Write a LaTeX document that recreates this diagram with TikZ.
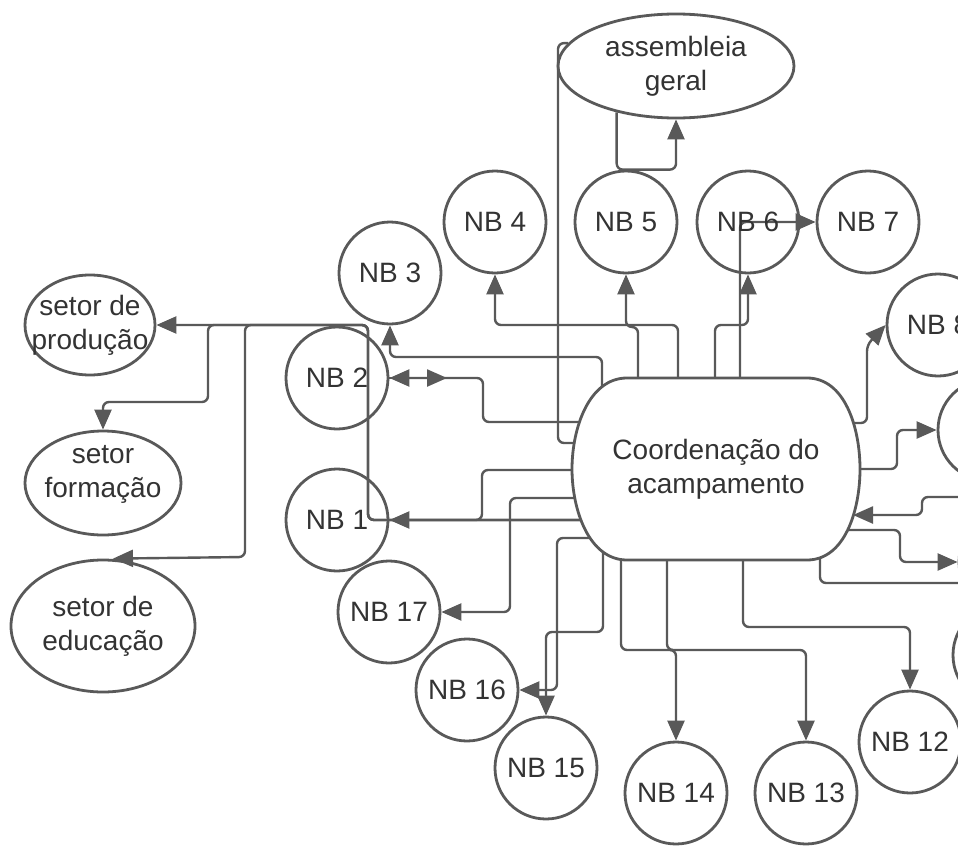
\documentclass[tikz,border=0pt]{standalone}
\usepackage{fontspec}
\setmainfont{Liberation Sans}
\usetikzlibrary{arrows.meta, shapes.geometric, backgrounds, calc}

\begin{document}
\begin{tikzpicture}[
    x=0.5pt, y=-0.5pt,
    font=\fontsize{14}{17}\selectfont,
    every node/.style={text=black!80},
    nb/.style={circle, draw=black!65, line width=1.4pt, minimum size=51pt, inner sep=0pt},
    setor/.style={ellipse, draw=black!65, line width=1.4pt, inner sep=0pt, align=center},
    coordbox/.style={align=center, inner sep=0pt},
    arrow/.style={line width=1.2pt, draw=black!65, rounded corners=3pt, -{Triangle[length=10pt, width=8.5pt]}},
    link/.style={line width=1.2pt, draw=black!65, rounded corners=3pt}
]
\useasboundingbox (0,0) rectangle (958,846);
\clip (0,0) rectangle (958,846);

% Coordination block
\draw[line width=1.4pt, draw=black!65, fill=white] (627,378) -- (807,378)
    .. controls (845,378) and (860,428) .. (860,469)
    .. controls (860,510) and (845,560) .. (807,560) -- (627,560)
    .. controls (589,560) and (572,510) .. (572,469)
    .. controls (572,428) and (589,378) .. (627,378) -- cycle;
\node[coordbox] (coord) at (716,469) {Coordenação do\\acampamento};

% Sectors and assembly
\node[setor, minimum width=118pt, minimum height=52pt] (asm) at (676,66) {assembleia\\geral};
\node[setor, minimum width=65pt, minimum height=50pt, inner xsep=-7pt] (prod) at (90,325) {setor de\\produção};
\node[setor, minimum width=78pt, minimum height=52pt, inner xsep=-2pt, inner ysep=-4pt,
      text height=12pt, text depth=32pt] (form) at (103,483)
      {\begin{tabular}[t]{@{}c@{}}setor\\formação\end{tabular}};
\node[setor, minimum width=92pt, minimum height=66pt] (educ) at (103,626) {setor de\\educação};

% Base nuclei
\node[nb] (nb1) at (337,520) {NB 1};
\node[nb] (nb2) at (337,378) {NB 2};
\node[nb] (nb3) at (390,273) {NB 3};
\node[nb] (nb4) at (495,222) {NB 4};
\node[nb] (nb5) at (626,222) {NB 5};
\node[nb] (nb6) at (748,222) {NB 6};
\node[nb] (nb7) at (868,222) {NB 7};
\node[nb] (nb8) at (938,325) {NB 8};
\node[nb] (nb9) at (989,430) {};
\node[nb] (nb10) at (1010,562) {};
\node[nb] (nb11) at (1004,655) {};
\node[nb] (nb12) at (910,742) {NB 12};
\node[nb] (nb13) at (806,793) {NB 13};
\node[nb] (nb14) at (676,793) {NB 14};
\node[nb] (nb15) at (546,768) {NB 15};
\node[nb] (nb16) at (467,690) {NB 16};
\node[nb] (nb17) at (389,612) {NB 17};

\begin{scope}[on background layer]
% Top connections
\draw[arrow] ($(coord)+(-114,-69)$) |- (390,357) -- (nb3);
\draw[arrow] ($(coord)+(-38,-69)$) |- (495,325) -- (nb4);
\draw[arrow] ($(coord)+(-78,-69)$) |- (626,327) -- (nb5);
\draw[arrow] ($(coord)+(-1,-69)$) |- (748,325) -- (nb6);
\draw[arrow] ($(coord)+(24,-69)$) |- (nb7);
\draw[arrow] (asm.218) |- (nb5.north) -| (asm);
\draw[link] (asm.168) -| ($(coord)+(-158,-26)$) -- ($(coord)+(-126,-26)$);

% Left connections
\draw[arrow] ($(coord)+(-126,-47)$) -| (483,378) -- (nb2);
\draw[arrow] (nb2) -- (447,378);
\draw[arrow] ($(coord)+(-126,1)$) -| (482,520) -- (nb1);
\draw[arrow] ($(coord)+(-126,29)$) -| (510,612) -- (nb17);
\draw[arrow] ($(coord)+(-121,69)$) -| (557,690) -- (nb16);

% Sectors fed along one line
\draw[arrow] ($(coord)+(-126,51)$) -| (368,325) -- (prod);
\draw[arrow] ($(coord)+(-126,51)$) -| (368,325) -| (208,402) -| (form);
\draw[arrow] ($(coord)+(-126,51)$) -| (368,325) -| (245,557) -- ($(educ.north)+(10,0)$);

% Bottom connections
\draw[arrow] ($(coord)+(-113,71)$) |- (546,632) -- (nb15);
\draw[arrow] ($(coord)+(-49,71)$) |- (676,650) -- (nb14);
\draw[arrow] ($(coord)+(-95,71)$) |- (806,650) -- (nb13);
\draw[arrow] ($(coord)+(27,71)$) |- (910,627) -- (nb12);
\draw[link] ($(coord)+(104,71)$) |- (1004,583) -- (nb11);

% Right connections
\draw[arrow] ($(coord)+(124,61)$) -| (900,562) -- (nb10);
\draw[arrow] (nb10.north) |- (922,497) |- ($(coord)+(137,46)$);
\draw[arrow] ($(coord)+(124,0)$) -| (897,430) -- (nb9);
\draw[arrow] ($(coord)+(124,-46)$) -| (867,345) -- (nb8.west);
\end{scope}

\end{tikzpicture}
\end{document}
